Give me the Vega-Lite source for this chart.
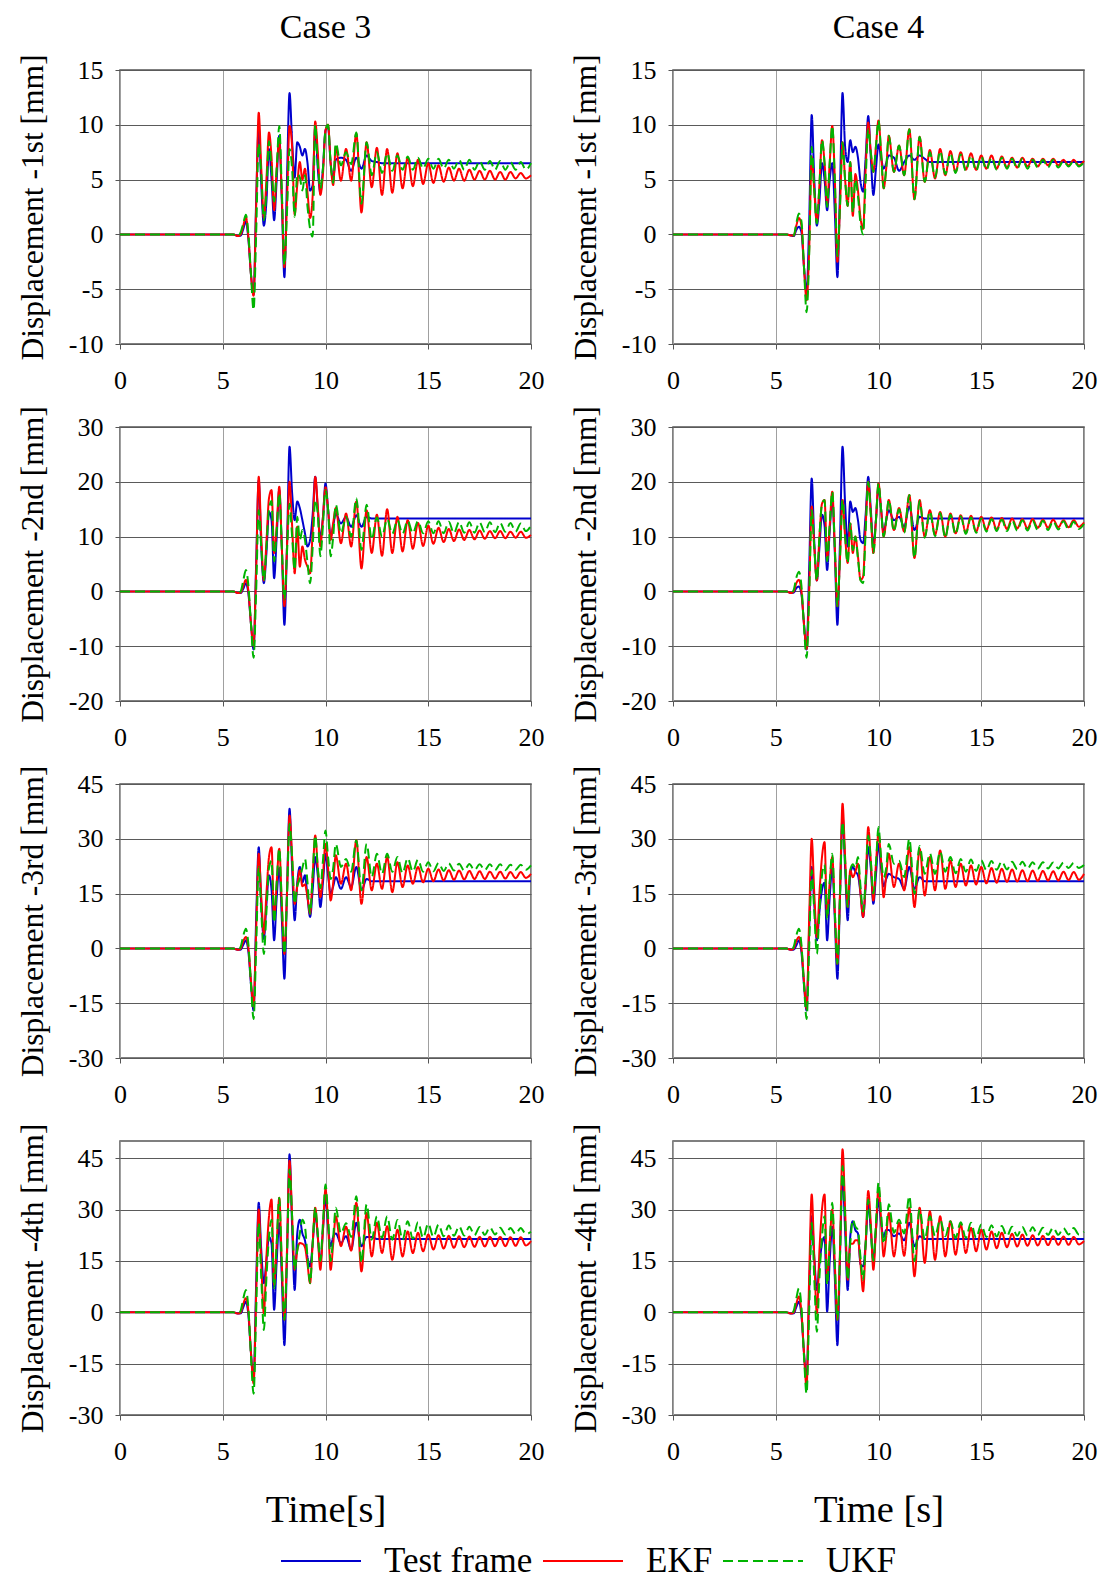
{
"$schema": "https://vega.github.io/schema/vega-lite/v6.json",
"background": "white",
"padding": {"left": 16, "top": 10, "right": 6, "bottom": 6},
"datasets": {
"c3_1": [
{"t":0,"T":0,"E":0,"U":0},{"t":5,"T":0,"E":0,"U":0},{"t":5.5,"T":0,"E":0,"U":0},{"t":5.75,"T":-0.15,"E":-0.15,"U":-0.15},{"t":5.875,"T":-0.1,"E":0,"U":0.2},
{"t":6,"T":0.5,"E":0.8,"U":1},{"t":6.125,"T":1.2,"E":1.6,"U":1.8},{"t":6.25,"T":-0.5,"E":-0.3,"U":0},{"t":6.375,"T":-3.7,"E":-3.7,"U":-3.7},{"t":6.5,"T":-5.5,"E":-5.6,"U":-6.9},
{"t":6.625,"T":3,"E":2.5,"U":0},{"t":6.75,"T":9.8,"E":11.1,"U":8.3},{"t":6.875,"T":4.5,"E":6,"U":5.5},{"t":7,"T":0.8,"E":1.5,"U":1.3},{"t":7.125,"T":3,"E":5,"U":4},
{"t":7.25,"T":7.8,"E":9.3,"U":8.5},{"t":7.375,"T":5,"E":7,"U":6},{"t":7.5,"T":1.3,"E":2.2,"U":3},{"t":7.625,"T":5,"E":6,"U":6},{"t":7.75,"T":9,"E":8.5,"U":9.9},
{"t":7.875,"T":3,"E":3.5,"U":4},{"t":8,"T":-3.9,"E":-3,"U":-2.8},{"t":8.125,"T":5,"E":3,"U":2},{"t":8.25,"T":12.9,"E":9.9,"U":7.8},{"t":8.375,"T":8.5,"E":8,"U":6},
{"t":8.5,"T":5.2,"E":1.8,"U":1.6},{"t":8.625,"T":8.4,"E":4.5,"U":5.5},{"t":8.75,"T":8,"E":6.6,"U":5.2},{"t":8.875,"T":7.2,"E":5,"U":4},{"t":9,"T":7.8,"E":6,"U":5.4},
{"t":9.125,"T":6.5,"E":3.8,"U":2.5},{"t":9.25,"T":4,"E":1.5,"U":0.5},{"t":9.375,"T":4.5,"E":3.5,"U":-0.2},{"t":9.5,"T":9.8,"E":10.3,"U":10},{"t":9.625,"T":6,"E":7.5,"U":6.5},
{"t":9.75,"T":3.8,"E":3.6,"U":4.2},{"t":9.875,"T":6,"E":5.5,"U":6},{"t":10,"T":9.5,"E":9.5,"U":9.5},{"t":10.125,"T":9.8,"E":10,"U":10},{"t":10.25,"T":6.5,"E":6.5,"U":6.5},
{"t":10.375,"T":5.2,"E":4.5,"U":4.7},{"t":10.5,"T":6.8,"E":8,"U":8.3},{"t":10.75,"T":7,"E":4.9,"U":6.3},{"t":11,"T":6.8,"E":7.8,"U":7.5},{"t":11.25,"T":5.8,"E":4.9,"U":6.4},
{"t":11.5,"T":7,"E":9.2,"U":9.3},{"t":11.75,"T":6,"E":2,"U":2.8},{"t":12,"T":7.2,"E":8.4,"U":8.4},{"t":12.25,"T":6.7,"E":4.3,"U":5.4},{"t":12.5,"T":6.6,"E":7.9,"U":7.5},
{"t":12.75,"T":6.5,"E":3.6,"U":5.6},{"t":13,"T":6.5,"E":7.8,"U":7.4},{"t":13.25,"T":6.5,"E":3.8,"U":5.8},{"t":13.5,"T":6.5,"E":7.4,"U":7.2},{"t":13.75,"T":6.5,"E":4.2,"U":5.9},
{"t":14,"T":6.5,"E":7,"U":7.1},{"t":14.25,"T":6.5,"E":4.4,"U":5.9},{"t":14.5,"T":6.5,"E":6.8,"U":7},{"t":14.75,"T":6.5,"E":4.6,"U":6},{"t":15,"T":6.5,"E":6.5,"U":6.9},
{"t":15.25,"T":6.5,"E":4.7,"U":6},{"t":15.5,"T":6.5,"E":6.3,"U":6.9},{"t":15.75,"T":6.5,"E":4.8,"U":6},{"t":16,"T":6.5,"E":6.1,"U":6.8},{"t":16.25,"T":6.5,"E":4.9,"U":6},
{"t":16.5,"T":6.5,"E":6,"U":6.8},{"t":16.75,"T":6.5,"E":4.9,"U":5.9},{"t":17,"T":6.5,"E":5.9,"U":6.8},{"t":17.25,"T":6.5,"E":5,"U":5.9},{"t":17.5,"T":6.5,"E":5.8,"U":6.7},
{"t":17.75,"T":6.5,"E":5,"U":5.9},{"t":18,"T":6.5,"E":5.8,"U":6.7},{"t":18.25,"T":6.5,"E":5,"U":5.9},{"t":18.5,"T":6.5,"E":5.7,"U":6.7},{"t":18.75,"T":6.5,"E":5,"U":5.9},
{"t":19,"T":6.5,"E":5.7,"U":6.6},{"t":19.25,"T":6.5,"E":5.1,"U":5.9},{"t":19.5,"T":6.5,"E":5.6,"U":6.6},{"t":19.75,"T":6.5,"E":5.1,"U":5.9},{"t":20,"T":6.5,"E":5.4,"U":6.5}
],
"c4_1": [
{"t":0,"T":0,"E":0,"U":0},{"t":5,"T":0,"E":0,"U":0},{"t":5.5,"T":0,"E":0,"U":0},{"t":5.75,"T":-0.1,"E":-0.1,"U":-0.1},{"t":5.875,"T":-0.15,"E":-0.1,"U":-0.1},
{"t":6,"T":0.4,"E":0.8,"U":1},{"t":6.125,"T":0.7,"E":1.5,"U":1.9},{"t":6.25,"T":0.2,"E":0.8,"U":1.2},{"t":6.375,"T":-3,"E":-3,"U":-3},{"t":6.5,"T":-5.3,"E":-6,"U":-7.1},
{"t":6.625,"T":1,"E":-1.5,"U":-2},{"t":6.75,"T":10.9,"E":7.1,"U":8},{"t":6.875,"T":5,"E":4,"U":4},{"t":7,"T":0.8,"E":1.1,"U":1},{"t":7.125,"T":3,"E":4.5,"U":4.5},
{"t":7.25,"T":6.5,"E":8.6,"U":8.6},{"t":7.375,"T":5,"E":6.5,"U":6.5},{"t":7.5,"T":2.2,"E":2.8,"U":2.5},{"t":7.625,"T":5,"E":6.5,"U":6.5},{"t":7.75,"T":6.5,"E":9.9,"U":9.9},
{"t":7.875,"T":2,"E":5,"U":5},{"t":8,"T":-3.9,"E":-2.5,"U":-2},{"t":8.125,"T":4,"E":2.5,"U":2.5},{"t":8.25,"T":12.9,"E":8.4,"U":8.4},{"t":8.375,"T":8,"E":5,"U":5},
{"t":8.5,"T":6.6,"E":2.6,"U":2.6},{"t":8.625,"T":8.6,"E":6.6,"U":6.6},{"t":8.75,"T":7.5,"E":1.7,"U":2},{"t":8.875,"T":8,"E":5.5,"U":5},{"t":9,"T":7,"E":4,"U":3.5},
{"t":9.125,"T":4.8,"E":1.5,"U":1},{"t":9.25,"T":3.9,"E":0.5,"U":0},{"t":9.375,"T":7,"E":6,"U":5},{"t":9.5,"T":10.8,"E":10.2,"U":9.6},{"t":9.625,"T":7,"E":7.5,"U":7.5},
{"t":9.75,"T":3.6,"E":5.7,"U":5.7},{"t":9.875,"T":6,"E":8,"U":8},{"t":10,"T":8.2,"E":10.4,"U":10.4},{"t":10.125,"T":7,"E":7.5,"U":7.5},{"t":10.25,"T":6,"E":4.2,"U":4.2},
{"t":10.375,"T":6.5,"E":6,"U":6},{"t":10.5,"T":7.2,"E":9,"U":9},{"t":10.75,"T":7,"E":5.7,"U":5.7},{"t":11,"T":5.8,"E":8.1,"U":8.1},{"t":11.25,"T":6.6,"E":5.4,"U":5.4},
{"t":11.5,"T":7.2,"E":9.6,"U":9.6},{"t":11.75,"T":6.8,"E":3.2,"U":3.2},{"t":12,"T":7.2,"E":8.9,"U":8.9},{"t":12.25,"T":6.9,"E":4.8,"U":4.8},{"t":12.5,"T":6.6,"E":7.7,"U":7.5},
{"t":12.75,"T":6.6,"E":5.1,"U":5.2},{"t":13,"T":6.6,"E":7.8,"U":7.6},{"t":13.25,"T":6.6,"E":5.4,"U":5.5},{"t":13.5,"T":6.6,"E":7.6,"U":7.4},{"t":13.75,"T":6.6,"E":5.7,"U":5.6},
{"t":14,"T":6.6,"E":7.5,"U":7.3},{"t":14.25,"T":6.6,"E":5.9,"U":5.8},{"t":14.5,"T":6.6,"E":7.4,"U":7.2},{"t":14.75,"T":6.6,"E":5.9,"U":5.8},{"t":15,"T":6.6,"E":7.2,"U":7.1},
{"t":15.25,"T":6.6,"E":6,"U":5.9},{"t":15.5,"T":6.6,"E":7.2,"U":7},{"t":15.75,"T":6.6,"E":6,"U":5.9},{"t":16,"T":6.6,"E":7.1,"U":7},{"t":16.25,"T":6.6,"E":6.1,"U":6},
{"t":16.5,"T":6.6,"E":7,"U":6.9},{"t":16.75,"T":6.6,"E":6.1,"U":6},{"t":17,"T":6.6,"E":7,"U":6.9},{"t":17.25,"T":6.6,"E":6.2,"U":6},{"t":17.5,"T":6.6,"E":6.9,"U":6.8},
{"t":17.75,"T":6.6,"E":6.2,"U":6.1},{"t":18,"T":6.6,"E":6.9,"U":6.8},{"t":18.25,"T":6.6,"E":6.3,"U":6.1},{"t":18.5,"T":6.6,"E":6.9,"U":6.8},{"t":18.75,"T":6.6,"E":6.3,"U":6.1},
{"t":19,"T":6.6,"E":6.8,"U":6.7},{"t":19.25,"T":6.6,"E":6.3,"U":6.2},{"t":19.5,"T":6.6,"E":6.8,"U":6.7},{"t":19.75,"T":6.6,"E":6.3,"U":6.2},{"t":20,"T":6.6,"E":6.7,"U":6.6}
],
"c3_2": [
{"t":0,"T":0,"E":0,"U":0},{"t":5,"T":0,"E":0,"U":0},{"t":5.5,"T":0,"E":0,"U":0},{"t":5.75,"T":-0.3,"E":-0.3,"U":-0.3},{"t":5.875,"T":-0.3,"E":-0.2,"U":0},
{"t":6,"T":0.5,"E":1,"U":2},{"t":6.125,"T":1.5,"E":2.1,"U":3.9},{"t":6.25,"T":-0.5,"E":0,"U":1},{"t":6.375,"T":-6,"E":-6,"U":-6},{"t":6.5,"T":-10.6,"E":-10,"U":-12.1},
{"t":6.625,"T":5,"E":4,"U":0},{"t":6.75,"T":20.3,"E":20.9,"U":14.8},{"t":6.875,"T":8,"E":10,"U":8},{"t":7,"T":1.5,"E":2,"U":2},{"t":7.125,"T":7,"E":9,"U":8},
{"t":7.25,"T":14.5,"E":17,"U":15},{"t":7.375,"T":13,"E":18.5,"U":16.5},{"t":7.5,"T":2.4,"E":7,"U":5.5},{"t":7.625,"T":10,"E":12,"U":11},{"t":7.75,"T":18.5,"E":19.1,"U":17.9},
{"t":7.875,"T":8,"E":8,"U":8},{"t":8,"T":-6.1,"E":-2.7,"U":-1.5},{"t":8.125,"T":8,"E":8,"U":7},{"t":8.25,"T":26.4,"E":20,"U":16},{"t":8.375,"T":18,"E":12,"U":10},
{"t":8.5,"T":13,"E":3.3,"U":3.9},{"t":8.625,"T":16.4,"E":11.8,"U":13.6},{"t":8.75,"T":15.2,"E":4.5,"U":9.4},{"t":8.875,"T":13,"E":8.2,"U":11.2},{"t":9,"T":10.6,"E":5.8,"U":9.4},
{"t":9.125,"T":8.2,"E":4.5,"U":5.2},{"t":9.25,"T":9.4,"E":3.3,"U":1.5},{"t":9.375,"T":14,"E":11,"U":8},{"t":9.5,"T":20.9,"E":20.9,"U":16.7},{"t":9.625,"T":15,"E":15.5,"U":14},
{"t":9.75,"T":9.7,"E":8.2,"U":6.4},{"t":9.875,"T":13.5,"E":13.5,"U":12},{"t":10,"T":19.7,"E":19,"U":18.5},{"t":10.125,"T":15,"E":15,"U":15},{"t":10.25,"T":10,"E":9.4,"U":6.4},
{"t":10.375,"T":12,"E":12.5,"U":10},{"t":10.5,"T":14.2,"E":15.2,"U":15.8},{"t":10.75,"T":12.4,"E":8.8,"U":10.6},{"t":11,"T":13.6,"E":14.2,"U":13.6},{"t":11.25,"T":11.8,"E":8.2,"U":10},
{"t":11.5,"T":13.9,"E":16.4,"U":17},{"t":11.75,"T":11.8,"E":4.2,"U":7.6},{"t":12,"T":13.6,"E":14.8,"U":15.8},{"t":12.25,"T":13.3,"E":7,"U":9.5},{"t":12.5,"T":13.3,"E":14,"U":13.5},
{"t":12.75,"T":13.3,"E":6.5,"U":10},{"t":13,"T":13.3,"E":15,"U":13.2},{"t":13.25,"T":13.3,"E":7,"U":10.5},{"t":13.5,"T":13.3,"E":13.6,"U":13},{"t":13.75,"T":13.3,"E":7.3,"U":10.5},
{"t":14,"T":13.3,"E":13,"U":12.9},{"t":14.25,"T":13.3,"E":7.8,"U":10.6},{"t":14.5,"T":13.3,"E":12.5,"U":12.8},{"t":14.75,"T":13.3,"E":8.3,"U":10.6},{"t":15,"T":13.3,"E":12,"U":12.8},
{"t":15.25,"T":13.3,"E":8.7,"U":10.6},{"t":15.5,"T":13.3,"E":11.6,"U":12.8},{"t":15.75,"T":13.3,"E":9,"U":10.6},{"t":16,"T":13.3,"E":11.4,"U":12.7},{"t":16.25,"T":13.3,"E":9.2,"U":10.6},
{"t":16.5,"T":13.3,"E":11.3,"U":12.7},{"t":16.75,"T":13.3,"E":9.4,"U":10.7},{"t":17,"T":13.3,"E":11.2,"U":12.6},{"t":17.25,"T":13.3,"E":9.5,"U":10.7},{"t":17.5,"T":13.3,"E":11.1,"U":12.6},
{"t":17.75,"T":13.3,"E":9.6,"U":10.8},{"t":18,"T":13.3,"E":11,"U":12.6},{"t":18.25,"T":13.3,"E":9.7,"U":10.8},{"t":18.5,"T":13.3,"E":11,"U":12.5},{"t":18.75,"T":13.3,"E":9.7,"U":10.9},
{"t":19,"T":13.3,"E":10.9,"U":12.5},{"t":19.25,"T":13.3,"E":9.8,"U":10.9},{"t":19.5,"T":13.3,"E":10.9,"U":12.4},{"t":19.75,"T":13.3,"E":9.8,"U":11},{"t":20,"T":13.3,"E":10.3,"U":12}
],
"c4_2": [
{"t":0,"T":0,"E":0,"U":0},{"t":5,"T":0,"E":0,"U":0},{"t":5.5,"T":0,"E":0,"U":0},{"t":5.75,"T":-0.3,"E":-0.3,"U":-0.3},{"t":5.875,"T":-0.2,"E":0,"U":0.3},
{"t":6,"T":0.6,"E":1.5,"U":2.5},{"t":6.125,"T":0.9,"E":2.1,"U":3.6},{"t":6.25,"T":-0.5,"E":0,"U":1},{"t":6.375,"T":-6,"E":-6,"U":-6.5},{"t":6.5,"T":-10.6,"E":-10.5,"U":-12.1},
{"t":6.625,"T":4,"E":0,"U":-1},{"t":6.75,"T":20.6,"E":15.5,"U":14.8},{"t":6.875,"T":9,"E":8,"U":8},{"t":7,"T":2,"E":2,"U":2},{"t":7.125,"T":8,"E":10,"U":10},
{"t":7.25,"T":14,"E":16,"U":16},{"t":7.375,"T":12,"E":16.7,"U":16.7},{"t":7.5,"T":3.9,"E":6,"U":5.5},{"t":7.625,"T":11,"E":12,"U":12},{"t":7.75,"T":17,"E":18.2,"U":18.2},
{"t":7.875,"T":7,"E":8,"U":8},{"t":8,"T":-6.1,"E":-2.7,"U":-2.7},{"t":8.125,"T":9,"E":6,"U":6},{"t":8.25,"T":26.4,"E":16.7,"U":16.7},{"t":8.375,"T":16,"E":10,"U":10},
{"t":8.5,"T":8.2,"E":5.2,"U":5.2},{"t":8.625,"T":16.4,"E":12.4,"U":12.4},{"t":8.75,"T":14.5,"E":7,"U":7.5},{"t":8.875,"T":15.2,"E":10,"U":10},{"t":9,"T":13,"E":6.4,"U":6},
{"t":9.125,"T":9.4,"E":2.1,"U":2},{"t":9.25,"T":8.8,"E":2.7,"U":1.5},{"t":9.375,"T":14,"E":12,"U":11},{"t":9.5,"T":20.9,"E":20,"U":20},{"t":9.625,"T":15,"E":14,"U":14},
{"t":9.75,"T":8.2,"E":7,"U":7},{"t":9.875,"T":13,"E":13,"U":13},{"t":10,"T":19.1,"E":19.7,"U":19.7},{"t":10.125,"T":15,"E":15,"U":15},{"t":10.25,"T":10.6,"E":10,"U":10},
{"t":10.375,"T":13,"E":13,"U":13},{"t":10.5,"T":14.8,"E":16.7,"U":16.7},{"t":10.75,"T":13,"E":11.2,"U":11},{"t":11,"T":13.6,"E":15.2,"U":15},{"t":11.25,"T":11.8,"E":10.9,"U":10.7},
{"t":11.5,"T":15.5,"E":17.6,"U":17.6},{"t":11.75,"T":11.2,"E":6.1,"U":6.1},{"t":12,"T":13.6,"E":16.7,"U":16.5},{"t":12.25,"T":13.3,"E":10,"U":9.8},{"t":12.5,"T":13.3,"E":14.8,"U":14.6},
{"t":12.75,"T":13.3,"E":10.3,"U":10.1},{"t":13,"T":13.3,"E":14.5,"U":14.3},{"t":13.25,"T":13.3,"E":10,"U":9.8},{"t":13.5,"T":13.3,"E":14.2,"U":14},{"t":13.75,"T":13.3,"E":10.6,"U":10.4},
{"t":14,"T":13.3,"E":13.9,"U":13.7},{"t":14.25,"T":13.3,"E":10.7,"U":10.5},{"t":14.5,"T":13.3,"E":13.8,"U":13.5},{"t":14.75,"T":13.3,"E":10.9,"U":10.7},{"t":15,"T":13.3,"E":13.6,"U":13.3},
{"t":15.25,"T":13.3,"E":11.2,"U":10.9},{"t":15.5,"T":13.3,"E":13.5,"U":13.2},{"t":15.75,"T":13.3,"E":11.3,"U":11},{"t":16,"T":13.3,"E":13.4,"U":13.1},{"t":16.25,"T":13.3,"E":11.4,"U":11},
{"t":16.5,"T":13.3,"E":13.3,"U":13},{"t":16.75,"T":13.3,"E":11.5,"U":11.1},{"t":17,"T":13.3,"E":13.2,"U":13},{"t":17.25,"T":13.3,"E":11.5,"U":11.1},{"t":17.5,"T":13.3,"E":13.2,"U":12.9},
{"t":17.75,"T":13.3,"E":11.6,"U":11.2},{"t":18,"T":13.3,"E":13.1,"U":12.9},{"t":18.25,"T":13.3,"E":11.6,"U":11.2},{"t":18.5,"T":13.3,"E":13.1,"U":12.8},{"t":18.75,"T":13.3,"E":11.7,"U":11.3},
{"t":19,"T":13.3,"E":13,"U":12.8},{"t":19.25,"T":13.3,"E":11.7,"U":11.3},{"t":19.5,"T":13.3,"E":13,"U":12.7},{"t":19.75,"T":13.3,"E":11.8,"U":11.4},{"t":20,"T":13.3,"E":12.6,"U":12.3}
],
"c3_3": [
{"t":0,"T":0,"E":0,"U":0},{"t":5,"T":0,"E":0,"U":0},{"t":5.5,"T":0,"E":0,"U":0},{"t":5.75,"T":-0.4,"E":-0.4,"U":-0.4},{"t":5.875,"T":-0.3,"E":0,"U":0.5},
{"t":6,"T":1,"E":2,"U":3.5},{"t":6.125,"T":2.2,"E":3.1,"U":5.4},{"t":6.25,"T":-1,"E":0,"U":1},{"t":6.375,"T":-10,"E":-9,"U":-10},{"t":6.5,"T":-17,"E":-16,"U":-19.3},
{"t":6.625,"T":8,"E":5,"U":0},{"t":6.75,"T":27.7,"E":25.9,"U":22.3},{"t":6.875,"T":12,"E":14,"U":10},{"t":7,"T":2.6,"E":4,"U":-1.5},{"t":7.125,"T":12,"E":15,"U":10},
{"t":7.25,"T":20,"E":25,"U":22},{"t":7.375,"T":16,"E":27.7,"U":24},{"t":7.5,"T":2.2,"E":8,"U":7},{"t":7.625,"T":14,"E":18,"U":18},{"t":7.75,"T":22,"E":27.3,"U":27.3},
{"t":7.875,"T":8,"E":12,"U":12},{"t":8,"T":-8.3,"E":-1.5,"U":-1.5},{"t":8.125,"T":15,"E":15,"U":14},{"t":8.25,"T":38.2,"E":36.4,"U":34.1},{"t":8.375,"T":22,"E":25,"U":25},
{"t":8.5,"T":7.7,"E":12.2,"U":12.2},{"t":8.625,"T":18,"E":17,"U":17},{"t":8.75,"T":22.3,"E":21.4,"U":19},{"t":8.875,"T":18,"E":17,"U":22},{"t":9,"T":20,"E":17.5,"U":24.5},
{"t":9.125,"T":14,"E":14,"U":18},{"t":9.25,"T":8.6,"E":9.5,"U":9.5},{"t":9.375,"T":16,"E":20,"U":20},{"t":9.5,"T":25,"E":30.9,"U":30.9},{"t":9.625,"T":20,"E":22,"U":22},
{"t":9.75,"T":11.3,"E":14,"U":16.5},{"t":9.875,"T":18,"E":20,"U":24},{"t":10,"T":25.9,"E":28.6,"U":32.3},{"t":10.125,"T":20,"E":22,"U":25},{"t":10.25,"T":15,"E":13.1,"U":19},
{"t":10.375,"T":17,"E":18,"U":22},{"t":10.5,"T":19.5,"E":25.5,"U":28.6},{"t":10.75,"T":16.3,"E":17.7,"U":22.3},{"t":11,"T":19.5,"E":23.2,"U":24.5},{"t":11.25,"T":16.8,"E":15.9,"U":21},
{"t":11.5,"T":22.3,"E":29.6,"U":29.6},{"t":11.75,"T":15.9,"E":12.2,"U":15.9},{"t":12,"T":19,"E":25,"U":28.6},{"t":12.25,"T":18.4,"E":15.9,"U":19.5},{"t":12.5,"T":18.4,"E":23.2,"U":25.9},
{"t":12.75,"T":18.4,"E":16.3,"U":20.4},{"t":13,"T":18.4,"E":25,"U":25.9},{"t":13.25,"T":18.4,"E":15.4,"U":21},{"t":13.5,"T":18.4,"E":23.6,"U":25},{"t":13.75,"T":18.4,"E":16.8,"U":20.6},
{"t":14,"T":18.4,"E":22.7,"U":24.7},{"t":14.25,"T":18.4,"E":17.7,"U":21},{"t":14.5,"T":18.4,"E":22.3,"U":24.3},{"t":14.75,"T":18.4,"E":18.1,"U":21},{"t":15,"T":18.4,"E":21.8,"U":23.6},
{"t":15.25,"T":18.4,"E":18.4,"U":21.1},{"t":15.5,"T":18.4,"E":21.6,"U":23.4},{"t":15.75,"T":18.4,"E":18.6,"U":21.2},{"t":16,"T":18.4,"E":21.4,"U":23.3},{"t":16.25,"T":18.4,"E":18.8,"U":21.3},
{"t":16.5,"T":18.4,"E":21.3,"U":23.2},{"t":16.75,"T":18.4,"E":18.9,"U":21.3},{"t":17,"T":18.4,"E":21.2,"U":23.1},{"t":17.25,"T":18.4,"E":19,"U":21.4},{"t":17.5,"T":18.4,"E":21.1,"U":23},
{"t":17.75,"T":18.4,"E":19,"U":21.4},{"t":18,"T":18.4,"E":21,"U":23},{"t":18.25,"T":18.4,"E":19.1,"U":21.4},{"t":18.5,"T":18.4,"E":21,"U":23},{"t":18.75,"T":18.4,"E":19.1,"U":21.4},
{"t":19,"T":18.4,"E":20.9,"U":22.9},{"t":19.25,"T":18.4,"E":19.2,"U":21.5},{"t":19.5,"T":18.4,"E":20.9,"U":22.9},{"t":19.75,"T":18.4,"E":19.3,"U":21.5},{"t":20,"T":18.4,"E":20.4,"U":22.7}
],
"c4_3": [
{"t":0,"T":0,"E":0,"U":0},{"t":5,"T":0,"E":0,"U":0},{"t":5.5,"T":0,"E":0,"U":0},{"t":5.75,"T":-0.4,"E":-0.4,"U":-0.4},{"t":5.875,"T":-0.3,"E":0,"U":0.5},
{"t":6,"T":0.8,"E":2,"U":3.5},{"t":6.125,"T":2.2,"E":3.1,"U":5.4},{"t":6.25,"T":-1,"E":0,"U":1},{"t":6.375,"T":-10,"E":-9,"U":-10},{"t":6.5,"T":-17,"E":-16.5,"U":-19.3},
{"t":6.625,"T":5,"E":8,"U":0},{"t":6.75,"T":22.3,"E":30,"U":21.4},{"t":6.875,"T":12,"E":15,"U":10},{"t":7,"T":2.2,"E":3.1,"U":-1.5},{"t":7.125,"T":10,"E":15,"U":10},
{"t":7.25,"T":16,"E":25,"U":20},{"t":7.375,"T":18,"E":29.1,"U":23},{"t":7.5,"T":2.2,"E":9,"U":8},{"t":7.625,"T":14,"E":18,"U":18},{"t":7.75,"T":22,"E":25,"U":25.9},
{"t":7.875,"T":8,"E":10,"U":10},{"t":8,"T":-8.3,"E":-4.2,"U":-4.2},{"t":8.125,"T":14,"E":15,"U":14},{"t":8.25,"T":36.4,"E":39.6,"U":34.6},{"t":8.375,"T":22,"E":25,"U":24},
{"t":8.5,"T":7.7,"E":11.3,"U":11.3},{"t":8.625,"T":20,"E":21.4,"U":21.4},{"t":8.75,"T":22.3,"E":19.5,"U":23},{"t":8.875,"T":21,"E":21,"U":22},{"t":9,"T":20,"E":23.2,"U":25},
{"t":9.125,"T":15,"E":15,"U":17},{"t":9.25,"T":8.6,"E":8.6,"U":10},{"t":9.375,"T":17,"E":18,"U":19},{"t":9.5,"T":27.7,"E":33.2,"U":30.9},{"t":9.625,"T":22,"E":24,"U":24},
{"t":9.75,"T":12.2,"E":13.1,"U":15},{"t":9.875,"T":20,"E":23,"U":23},{"t":10,"T":28.6,"E":31.4,"U":33.2},{"t":10.125,"T":22,"E":24,"U":25},{"t":10.25,"T":17,"E":14,"U":19.5},
{"t":10.375,"T":19,"E":20,"U":22},{"t":10.5,"T":20.4,"E":25.9,"U":28.6},{"t":10.75,"T":19.5,"E":16.8,"U":23.2},{"t":11,"T":19,"E":23.2,"U":24},{"t":11.25,"T":16.3,"E":15.9,"U":19.5},
{"t":11.5,"T":22.3,"E":27.7,"U":30},{"t":11.75,"T":16.3,"E":11.3,"U":15},{"t":12,"T":19.5,"E":27.3,"U":28},{"t":12.25,"T":18.4,"E":14.5,"U":20.4},{"t":12.5,"T":18.4,"E":25,"U":26},
{"t":12.75,"T":18.4,"E":15.9,"U":20.4},{"t":13,"T":18.4,"E":26.8,"U":26.5},{"t":13.25,"T":18.4,"E":16.3,"U":21},{"t":13.5,"T":18.4,"E":24,"U":25},{"t":13.75,"T":18.4,"E":16.8,"U":20.6},
{"t":14,"T":18.4,"E":23.2,"U":24.5},{"t":14.25,"T":18.4,"E":17.2,"U":21},{"t":14.5,"T":18.4,"E":22.7,"U":24.3},{"t":14.75,"T":18.4,"E":17.5,"U":21.2},{"t":15,"T":18.4,"E":22.3,"U":24.1},
{"t":15.25,"T":18.4,"E":17.8,"U":21.4},{"t":15.5,"T":18.4,"E":22,"U":23.9},{"t":15.75,"T":18.4,"E":18,"U":21.5},{"t":16,"T":18.4,"E":21.8,"U":23.8},{"t":16.25,"T":18.4,"E":18.2,"U":21.6},
{"t":16.5,"T":18.4,"E":21.6,"U":23.7},{"t":16.75,"T":18.4,"E":18.3,"U":21.7},{"t":17,"T":18.4,"E":21.4,"U":23.7},{"t":17.25,"T":18.4,"E":18.4,"U":21.8},{"t":17.5,"T":18.4,"E":21.3,"U":23.6},
{"t":17.75,"T":18.4,"E":18.5,"U":21.8},{"t":18,"T":18.4,"E":21.2,"U":23.6},{"t":18.25,"T":18.4,"E":18.6,"U":21.9},{"t":18.5,"T":18.4,"E":21.1,"U":23.5},{"t":18.75,"T":18.4,"E":18.6,"U":21.9},
{"t":19,"T":18.4,"E":21,"U":23.5},{"t":19.25,"T":18.4,"E":18.7,"U":22},{"t":19.5,"T":18.4,"E":20.9,"U":23.4},{"t":19.75,"T":18.4,"E":18.8,"U":22},{"t":20,"T":18.4,"E":20.4,"U":22.8}
],
"c3_4": [
{"t":0,"T":0,"E":0,"U":0},{"t":5,"T":0,"E":0,"U":0},{"t":5.5,"T":0,"E":0,"U":0},{"t":5.75,"T":-0.4,"E":-0.4,"U":-0.4},{"t":5.875,"T":-0.3,"E":0,"U":0.5},
{"t":6,"T":1.5,"E":2.5,"U":4},{"t":6.125,"T":3.1,"E":4.1,"U":6.5},{"t":6.25,"T":-1,"E":0,"U":1},{"t":6.375,"T":-12,"E":-12,"U":-13},{"t":6.5,"T":-19.8,"E":-20.8,"U":-23.8},
{"t":6.625,"T":8,"E":5,"U":0},{"t":6.75,"T":32,"E":30,"U":26.1},{"t":6.875,"T":18,"E":14,"U":10},{"t":7,"T":8.5,"E":-0.3,"U":-5.2},{"t":7.125,"T":15,"E":16,"U":10},
{"t":7.25,"T":22,"E":28,"U":22},{"t":7.375,"T":20,"E":32.9,"U":27},{"t":7.5,"T":0.7,"E":8,"U":7},{"t":7.625,"T":15,"E":20,"U":20},{"t":7.75,"T":26,"E":33.4,"U":33.4},
{"t":7.875,"T":10,"E":14,"U":14},{"t":8,"T":-9.6,"E":-2.2,"U":-2.2},{"t":8.125,"T":16,"E":18,"U":16},{"t":8.25,"T":46.1,"E":44.2,"U":41.7},{"t":8.375,"T":25,"E":28,"U":28},
{"t":8.5,"T":6.5,"E":12.4,"U":12.4},{"t":8.625,"T":23,"E":18,"U":18},{"t":8.75,"T":27,"E":20.2,"U":23},{"t":8.875,"T":23,"E":20,"U":27},{"t":9,"T":21,"E":19,"U":25},
{"t":9.125,"T":16,"E":14,"U":16},{"t":9.25,"T":13.4,"E":8.5,"U":8.5},{"t":9.375,"T":20,"E":20,"U":20},{"t":9.5,"T":29,"E":30.5,"U":30.5},{"t":9.625,"T":22,"E":22,"U":23},
{"t":9.75,"T":14.4,"E":12.4,"U":15},{"t":9.875,"T":24,"E":24,"U":26},{"t":10,"T":33.4,"E":35.9,"U":37.3},{"t":10.125,"T":25,"E":26,"U":28},{"t":10.25,"T":19.3,"E":12.4,"U":15},
{"t":10.375,"T":22,"E":20,"U":22},{"t":10.5,"T":23,"E":28,"U":30.5},{"t":10.75,"T":20.2,"E":19.3,"U":23},{"t":11,"T":22.2,"E":25,"U":26},{"t":11.25,"T":18.3,"E":18,"U":22},
{"t":11.5,"T":26.1,"E":32,"U":33.9},{"t":11.75,"T":19.3,"E":11.9,"U":14.4},{"t":12,"T":22,"E":29,"U":31.5},{"t":12.25,"T":22,"E":16.3,"U":21.2},{"t":12.5,"T":21.4,"E":26.1,"U":28},
{"t":12.75,"T":21.4,"E":17.3,"U":21.7},{"t":13,"T":21.4,"E":25.1,"U":28},{"t":13.25,"T":21.4,"E":15.3,"U":21.2},{"t":13.5,"T":21.4,"E":24.1,"U":26.9},{"t":13.75,"T":21.4,"E":16.3,"U":21.2},
{"t":14,"T":21.4,"E":23.6,"U":26.6},{"t":14.25,"T":21.4,"E":17.3,"U":21.5},{"t":14.5,"T":21.4,"E":23.2,"U":26.3},{"t":14.75,"T":21.4,"E":17.8,"U":21.7},{"t":15,"T":21.4,"E":22.7,"U":25.9},
{"t":15.25,"T":21.4,"E":18.3,"U":22},{"t":15.5,"T":21.4,"E":22.5,"U":25.6},{"t":15.75,"T":21.4,"E":18.6,"U":22.2},{"t":16,"T":21.4,"E":22.3,"U":25.3},{"t":16.25,"T":21.4,"E":18.8,"U":22.3},
{"t":16.5,"T":21.4,"E":22.2,"U":25.1},{"t":16.75,"T":21.4,"E":19,"U":22.4},{"t":17,"T":21.4,"E":22.1,"U":25},{"t":17.25,"T":21.4,"E":19.1,"U":22.5},{"t":17.5,"T":21.4,"E":22,"U":24.9},
{"t":17.75,"T":21.4,"E":19.2,"U":22.6},{"t":18,"T":21.4,"E":22,"U":24.8},{"t":18.25,"T":21.4,"E":19.3,"U":22.7},{"t":18.5,"T":21.4,"E":22,"U":24.7},{"t":18.75,"T":21.4,"E":19.3,"U":22.7},
{"t":19,"T":21.4,"E":21.9,"U":24.6},{"t":19.25,"T":21.4,"E":19.4,"U":22.8},{"t":19.5,"T":21.4,"E":21.9,"U":24.6},{"t":19.75,"T":21.4,"E":19.5,"U":22.8},{"t":20,"T":21.4,"E":20.8,"U":23.5}
],
"c4_4": [
{"t":0,"T":0,"E":0,"U":0},{"t":5,"T":0,"E":0,"U":0},{"t":5.5,"T":0,"E":0,"U":0},{"t":5.75,"T":-0.4,"E":-0.4,"U":-0.4},{"t":5.875,"T":-0.3,"E":0,"U":0.5},
{"t":6,"T":1.5,"E":2.5,"U":4},{"t":6.125,"T":3.1,"E":4.6,"U":7},{"t":6.25,"T":-1,"E":0,"U":1.5},{"t":6.375,"T":-12,"E":-12,"U":-13},{"t":6.5,"T":-19.8,"E":-21.8,"U":-23.8},
{"t":6.625,"T":6,"E":10,"U":0},{"t":6.75,"T":28,"E":34.4,"U":26.1},{"t":6.875,"T":16,"E":16,"U":10},{"t":7,"T":6.5,"E":-0.3,"U":-5.7},{"t":7.125,"T":14,"E":18,"U":10},
{"t":7.25,"T":20,"E":30,"U":22},{"t":7.375,"T":22,"E":34.4,"U":28},{"t":7.5,"T":0.2,"E":9,"U":8},{"t":7.625,"T":15,"E":20,"U":20},{"t":7.75,"T":25,"E":30,"U":32},
{"t":7.875,"T":10,"E":14,"U":14},{"t":8,"T":-9.6,"E":-2.2,"U":-2.2},{"t":8.125,"T":16,"E":18,"U":16},{"t":8.25,"T":39.8,"E":47.6,"U":42.7},{"t":8.375,"T":24,"E":30,"U":28},
{"t":8.5,"T":6.5,"E":9.5,"U":9.5},{"t":8.625,"T":22,"E":20,"U":20},{"t":8.75,"T":26.6,"E":20,"U":27},{"t":8.875,"T":24,"E":21,"U":25},{"t":9,"T":23,"E":21,"U":24},
{"t":9.125,"T":14,"E":14,"U":16},{"t":9.25,"T":13.4,"E":6.1,"U":9.5},{"t":9.375,"T":20,"E":20,"U":20},{"t":9.5,"T":31.5,"E":35.4,"U":32.9},{"t":9.625,"T":24,"E":26,"U":24},
{"t":9.75,"T":14.9,"E":12.4,"U":15},{"t":9.875,"T":24,"E":24,"U":26},{"t":10,"T":32.9,"E":36.4,"U":37.8},{"t":10.125,"T":26,"E":27,"U":29},{"t":10.25,"T":22,"E":16.3,"U":20},
{"t":10.375,"T":24,"E":22,"U":24},{"t":10.5,"T":24,"E":29,"U":31.5},{"t":10.75,"T":22.2,"E":16.3,"U":23.2},{"t":11,"T":23,"E":26.1,"U":27},{"t":11.25,"T":21,"E":16.5,"U":23},
{"t":11.5,"T":26.1,"E":30.5,"U":33.9},{"t":11.75,"T":19.3,"E":10.5,"U":14.9},{"t":12,"T":22.2,"E":30.5,"U":30},{"t":12.25,"T":21.4,"E":14.4,"U":21.2},{"t":12.5,"T":21.4,"E":29.5,"U":28},
{"t":12.75,"T":21.4,"E":15.3,"U":22.2},{"t":13,"T":21.4,"E":28,"U":27},{"t":13.25,"T":21.4,"E":16.3,"U":22.2},{"t":13.5,"T":21.4,"E":26.6,"U":26.6},{"t":13.75,"T":21.4,"E":16.8,"U":21.7},
{"t":14,"T":21.4,"E":25.6,"U":26.3},{"t":14.25,"T":21.4,"E":17.3,"U":21.7},{"t":14.5,"T":21.4,"E":24.6,"U":26.1},{"t":14.75,"T":21.4,"E":17.8,"U":21.7},{"t":15,"T":21.4,"E":24.1,"U":25.6},
{"t":15.25,"T":21.4,"E":18.3,"U":22},{"t":15.5,"T":21.4,"E":23.6,"U":25.4},{"t":15.75,"T":21.4,"E":18.7,"U":22.1},{"t":16,"T":21.4,"E":23.2,"U":25.2},{"t":16.25,"T":21.4,"E":19,"U":22.2},
{"t":16.5,"T":21.4,"E":22.9,"U":25},{"t":16.75,"T":21.4,"E":19.2,"U":22.3},{"t":17,"T":21.4,"E":22.7,"U":24.9},{"t":17.25,"T":21.4,"E":19.4,"U":22.4},{"t":17.5,"T":21.4,"E":22.5,"U":24.8},
{"t":17.75,"T":21.4,"E":19.5,"U":22.5},{"t":18,"T":21.4,"E":22.3,"U":24.7},{"t":18.25,"T":21.4,"E":19.6,"U":22.6},{"t":18.5,"T":21.4,"E":22.2,"U":24.7},{"t":18.75,"T":21.4,"E":19.7,"U":22.6},
{"t":19,"T":21.4,"E":22.1,"U":24.6},{"t":19.25,"T":21.4,"E":19.7,"U":22.7},{"t":19.5,"T":21.4,"E":22,"U":24.6},{"t":19.75,"T":21.4,"E":19.8,"U":22.7},{"t":20,"T":21.4,"E":20.8,"U":23.5}
]
},
"columns": 2,
"spacing": {"row": 83, "column": 142},
"bounds": "flush",
"concat": [
{"title": "Case 3", "width": 411, "height": 274, "data": {"name": "c3_1"},
 "transform": [{"fold": ["T", "E", "U"], "as": ["s", "v"]}],
 "mark": {"type": "line", "interpolate": "monotone", "strokeWidth": 2},
 "encoding": {
  "x": {"field": "t", "type": "quantitative", "scale": {"domain": [0, 20], "nice": false}, "axis": {"values": [0, 5, 10, 15, 20], "title": null}},
  "y": {"field": "v", "type": "quantitative", "scale": {"domain": [-10, 15], "nice": false}, "axis": {"values": [-10, -5, 0, 5, 10, 15], "title": "Displacement -1st [mm]"}},
  "color": {"field": "s", "type": "nominal", "sort": null, "scale": {"domain": ["T", "E", "U"], "range": ["#0000cd", "#ff0000", "#00b400"]}, "legend": {"title": null, "labelExpr": "datum.label == 'T' ? 'Test frame' : (datum.label == 'E' ? 'EKF' : 'UKF')"}},
  "strokeDash": {"field": "s", "type": "nominal", "sort": null, "scale": {"domain": ["T", "E", "U"], "range": [[1, 0], [1, 0], [10, 5]]}, "legend": {"title": null, "labelExpr": "datum.label == 'T' ? 'Test frame' : (datum.label == 'E' ? 'EKF' : 'UKF')"}}
 }},
{"title": "Case 4", "width": 411, "height": 274, "data": {"name": "c4_1"},
 "transform": [{"fold": ["T", "E", "U"], "as": ["s", "v"]}],
 "mark": {"type": "line", "interpolate": "monotone", "strokeWidth": 2},
 "encoding": {
  "x": {"field": "t", "type": "quantitative", "scale": {"domain": [0, 20], "nice": false}, "axis": {"values": [0, 5, 10, 15, 20], "title": null}},
  "y": {"field": "v", "type": "quantitative", "scale": {"domain": [-10, 15], "nice": false}, "axis": {"values": [-10, -5, 0, 5, 10, 15], "title": "Displacement -1st [mm]"}},
  "color": {"field": "s", "type": "nominal", "sort": null, "scale": {"domain": ["T", "E", "U"], "range": ["#0000cd", "#ff0000", "#00b400"]}, "legend": null},
  "strokeDash": {"field": "s", "type": "nominal", "sort": null, "scale": {"domain": ["T", "E", "U"], "range": [[1, 0], [1, 0], [10, 5]]}, "legend": null}
 }},
{"width": 411, "height": 274, "data": {"name": "c3_2"},
 "transform": [{"fold": ["T", "E", "U"], "as": ["s", "v"]}],
 "mark": {"type": "line", "interpolate": "monotone", "strokeWidth": 2},
 "encoding": {
  "x": {"field": "t", "type": "quantitative", "scale": {"domain": [0, 20], "nice": false}, "axis": {"values": [0, 5, 10, 15, 20], "title": null}},
  "y": {"field": "v", "type": "quantitative", "scale": {"domain": [-20, 30], "nice": false}, "axis": {"values": [-20, -10, 0, 10, 20, 30], "title": "Displacement -2nd [mm]"}},
  "color": {"field": "s", "type": "nominal", "sort": null, "scale": {"domain": ["T", "E", "U"], "range": ["#0000cd", "#ff0000", "#00b400"]}, "legend": null},
  "strokeDash": {"field": "s", "type": "nominal", "sort": null, "scale": {"domain": ["T", "E", "U"], "range": [[1, 0], [1, 0], [10, 5]]}, "legend": null}
 }},
{"width": 411, "height": 274, "data": {"name": "c4_2"},
 "transform": [{"fold": ["T", "E", "U"], "as": ["s", "v"]}],
 "mark": {"type": "line", "interpolate": "monotone", "strokeWidth": 2},
 "encoding": {
  "x": {"field": "t", "type": "quantitative", "scale": {"domain": [0, 20], "nice": false}, "axis": {"values": [0, 5, 10, 15, 20], "title": null}},
  "y": {"field": "v", "type": "quantitative", "scale": {"domain": [-20, 30], "nice": false}, "axis": {"values": [-20, -10, 0, 10, 20, 30], "title": "Displacement -2nd [mm]"}},
  "color": {"field": "s", "type": "nominal", "sort": null, "scale": {"domain": ["T", "E", "U"], "range": ["#0000cd", "#ff0000", "#00b400"]}, "legend": null},
  "strokeDash": {"field": "s", "type": "nominal", "sort": null, "scale": {"domain": ["T", "E", "U"], "range": [[1, 0], [1, 0], [10, 5]]}, "legend": null}
 }},
{"width": 411, "height": 274, "data": {"name": "c3_3"},
 "transform": [{"fold": ["T", "E", "U"], "as": ["s", "v"]}],
 "mark": {"type": "line", "interpolate": "monotone", "strokeWidth": 2},
 "encoding": {
  "x": {"field": "t", "type": "quantitative", "scale": {"domain": [0, 20], "nice": false}, "axis": {"values": [0, 5, 10, 15, 20], "title": null}},
  "y": {"field": "v", "type": "quantitative", "scale": {"domain": [-30, 45], "nice": false}, "axis": {"values": [-30, -15, 0, 15, 30, 45], "title": "Displacement -3rd [mm]"}},
  "color": {"field": "s", "type": "nominal", "sort": null, "scale": {"domain": ["T", "E", "U"], "range": ["#0000cd", "#ff0000", "#00b400"]}, "legend": null},
  "strokeDash": {"field": "s", "type": "nominal", "sort": null, "scale": {"domain": ["T", "E", "U"], "range": [[1, 0], [1, 0], [10, 5]]}, "legend": null}
 }},
{"width": 411, "height": 274, "data": {"name": "c4_3"},
 "transform": [{"fold": ["T", "E", "U"], "as": ["s", "v"]}],
 "mark": {"type": "line", "interpolate": "monotone", "strokeWidth": 2},
 "encoding": {
  "x": {"field": "t", "type": "quantitative", "scale": {"domain": [0, 20], "nice": false}, "axis": {"values": [0, 5, 10, 15, 20], "title": null}},
  "y": {"field": "v", "type": "quantitative", "scale": {"domain": [-30, 45], "nice": false}, "axis": {"values": [-30, -15, 0, 15, 30, 45], "title": "Displacement -3rd [mm]"}},
  "color": {"field": "s", "type": "nominal", "sort": null, "scale": {"domain": ["T", "E", "U"], "range": ["#0000cd", "#ff0000", "#00b400"]}, "legend": null},
  "strokeDash": {"field": "s", "type": "nominal", "sort": null, "scale": {"domain": ["T", "E", "U"], "range": [[1, 0], [1, 0], [10, 5]]}, "legend": null}
 }},
{"width": 411, "height": 274, "data": {"name": "c3_4"},
 "transform": [{"fold": ["T", "E", "U"], "as": ["s", "v"]}],
 "mark": {"type": "line", "interpolate": "monotone", "strokeWidth": 2},
 "encoding": {
  "x": {"field": "t", "type": "quantitative", "scale": {"domain": [0, 20], "nice": false}, "axis": {"values": [0, 5, 10, 15, 20], "title": "Time[s]"}},
  "y": {"field": "v", "type": "quantitative", "scale": {"domain": [-30, 50], "nice": false}, "axis": {"values": [-30, -15, 0, 15, 30, 45], "title": "Displacement -4th [mm]"}},
  "color": {"field": "s", "type": "nominal", "sort": null, "scale": {"domain": ["T", "E", "U"], "range": ["#0000cd", "#ff0000", "#00b400"]}, "legend": null},
  "strokeDash": {"field": "s", "type": "nominal", "sort": null, "scale": {"domain": ["T", "E", "U"], "range": [[1, 0], [1, 0], [10, 5]]}, "legend": null}
 }},
{"width": 411, "height": 274, "data": {"name": "c4_4"},
 "transform": [{"fold": ["T", "E", "U"], "as": ["s", "v"]}],
 "mark": {"type": "line", "interpolate": "monotone", "strokeWidth": 2},
 "encoding": {
  "x": {"field": "t", "type": "quantitative", "scale": {"domain": [0, 20], "nice": false}, "axis": {"values": [0, 5, 10, 15, 20], "title": "Time [s]"}},
  "y": {"field": "v", "type": "quantitative", "scale": {"domain": [-30, 50], "nice": false}, "axis": {"values": [-30, -15, 0, 15, 30, 45], "title": "Displacement -4th [mm]"}},
  "color": {"field": "s", "type": "nominal", "sort": null, "scale": {"domain": ["T", "E", "U"], "range": ["#0000cd", "#ff0000", "#00b400"]}, "legend": null},
  "strokeDash": {"field": "s", "type": "nominal", "sort": null, "scale": {"domain": ["T", "E", "U"], "range": [[1, 0], [1, 0], [10, 5]]}, "legend": null}
 }}
],
"config": {
 "font": "Liberation Serif, serif",
 "view": {"stroke": "#555555", "strokeWidth": 1.5},
 "axis": {"labelFont": "Liberation Serif, serif", "labelFontSize": 26, "labelColor": "#000000", "labelExpr": "'' + datum.value", "titleFont": "Liberation Serif, serif", "titleFontWeight": "normal", "titleColor": "#000000", "tickColor": "#555555", "tickSize": 5, "tickWidth": 1, "domain": false, "grid": true, "gridWidth": 1, "labelFlush": false, "labelOverlap": false},
 "axisX": {"labelFont": "Liberation Serif, serif", "labelFontSize": 26, "labelPadding": 18, "titleFontSize": 38.5, "titlePadding": 27, "gridColor": "#a0a0a0"},
 "axisY": {"labelFont": "Liberation Serif, serif", "labelFontSize": 26, "labelPadding": 12, "titleFontSize": 31.5, "titlePadding": 19, "gridColor": "#5a5a5a"},
 "title": {"font": "Liberation Serif, serif", "fontSize": 34, "fontWeight": "normal", "color": "#000000", "offset": 9, "anchor": "middle"},
 "legend": {"orient": "none", "legendX": 160, "legendY": 1450, "direction": "horizontal", "symbolType": "stroke", "symbolSize": 6400, "symbolStrokeWidth": 2, "labelFont": "Liberation Serif, serif", "labelFontSize": 35, "labelColor": "#000000", "labelOffset": 22, "columnPadding": 6, "padding": 0, "labelLimit": 400}
}
}
